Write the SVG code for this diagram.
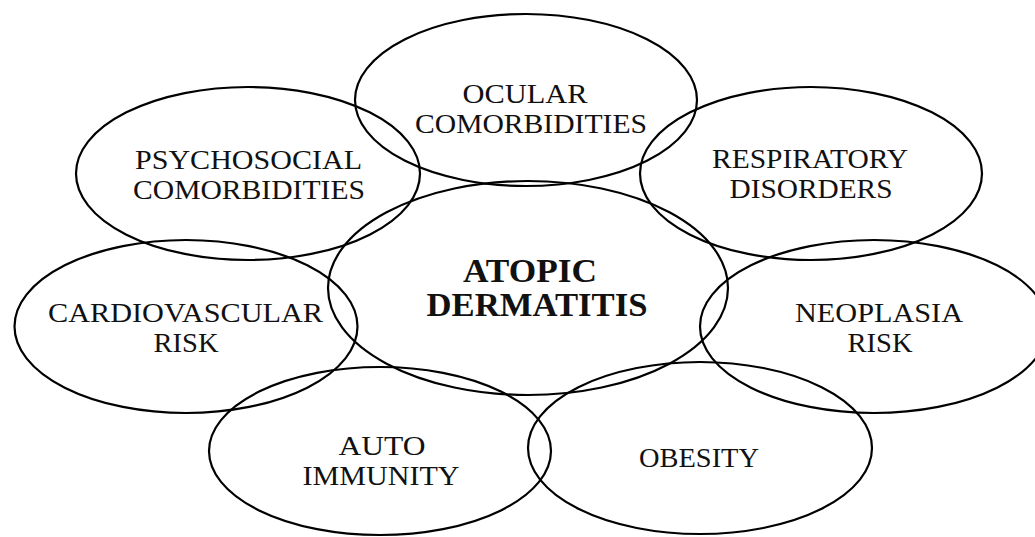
<svg xmlns="http://www.w3.org/2000/svg" width="1035" height="537" viewBox="0 0 1035 537">
<style>
ellipse{fill:none;stroke:#000;stroke-width:2.2}
text{font-family:"Liberation Serif","Times New Roman",serif;font-size:28px;fill:#111;text-anchor:middle}
.b{font-weight:bold;font-size:33px}
</style>
<rect width="1035" height="537" fill="#fff"/>
<g id="ocular"><ellipse cx="526" cy="100" rx="171" ry="86"/><text x="525" y="103" textLength="125" lengthAdjust="spacingAndGlyphs">OCULAR</text><text x="531" y="133" textLength="232" lengthAdjust="spacingAndGlyphs">COMORBIDITIES</text></g>
<g id="psychosocial"><ellipse cx="248" cy="173.5" rx="172" ry="86.5"/><text x="248.5" y="169" textLength="227" lengthAdjust="spacingAndGlyphs">PSYCHOSOCIAL</text><text x="249" y="199" textLength="232" lengthAdjust="spacingAndGlyphs">COMORBIDITIES</text></g>
<g id="respiratory"><ellipse cx="811" cy="173.5" rx="171" ry="86.5"/><text x="810" y="168" textLength="196" lengthAdjust="spacingAndGlyphs">RESPIRATORY</text><text x="811" y="198" textLength="163" lengthAdjust="spacingAndGlyphs">DISORDERS</text></g>
<g id="cardiovascular"><ellipse cx="186" cy="326.5" rx="171.5" ry="86.5"/><text x="185.5" y="322" textLength="275" lengthAdjust="spacingAndGlyphs">CARDIOVASCULAR</text><text x="186" y="352" textLength="65" lengthAdjust="spacingAndGlyphs">RISK</text></g>
<g id="neoplasia"><ellipse cx="874" cy="326.5" rx="174" ry="86.5"/><text x="879" y="322" textLength="168" lengthAdjust="spacingAndGlyphs">NEOPLASIA</text><text x="880" y="352" textLength="65" lengthAdjust="spacingAndGlyphs">RISK</text></g>
<g id="autoimmunity"><ellipse cx="380" cy="451" rx="171" ry="84"/><text x="382" y="455" textLength="87" lengthAdjust="spacingAndGlyphs">AUTO</text><text x="381" y="485" textLength="157" lengthAdjust="spacingAndGlyphs">IMMUNITY</text></g>
<g id="obesity"><ellipse cx="700" cy="448" rx="172" ry="86"/><text x="699" y="467" textLength="120" lengthAdjust="spacingAndGlyphs">OBESITY</text></g>
<g id="atopic"><ellipse cx="528" cy="288" rx="200" ry="107"/><text class="b" x="530" y="282" textLength="134" lengthAdjust="spacingAndGlyphs">ATOPIC</text><text class="b" x="537" y="316" textLength="221" lengthAdjust="spacingAndGlyphs">DERMATITIS</text></g>
<g id="connectors"></g>
</svg>
